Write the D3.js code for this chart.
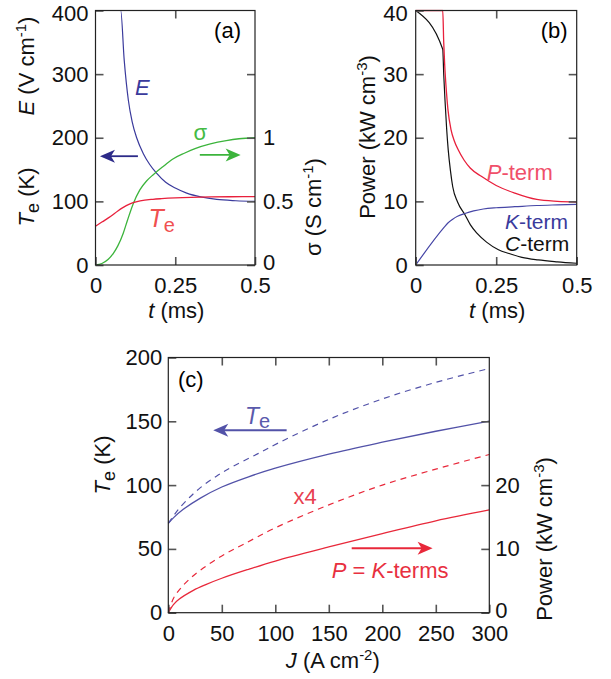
<!DOCTYPE html>
<html><head><meta charset="utf-8">
<script src="https://cdn.jsdelivr.net/npm/d3@7"></script>
<style>
body{margin:0;background:#fff;}
svg{display:block;font-family:"Liberation Sans",Arial,sans-serif;}
</style></head>
<body><svg id="c" width="611" height="679"></svg>
<script>
// ---------- Panel (a) data ----------
const tE   = [0, 0.079, 0.09, 0.103, 0.115, 0.129, 0.15, 0.17, 0.192, 0.22, 0.25, 0.286, 0.33, 0.38, 0.44, 0.5];
const Evals= [400, 400, 322, 259, 225, 200, 175, 158, 144, 130, 121, 113, 107, 103, 101, 100];
const tSig = [0, 0.02, 0.04, 0.056, 0.07, 0.087, 0.1, 0.118, 0.139, 0.16, 0.181, 0.21, 0.244, 0.28, 0.312, 0.36, 0.41, 0.45, 0.5];
const sigma= [0, 0.012, 0.045, 0.092, 0.15, 0.25, 0.35, 0.48, 0.59, 0.66, 0.71, 0.77, 0.835, 0.88, 0.915, 0.952, 0.978, 0.992, 1.0];
const tTe  = [0, 0.02, 0.048, 0.07, 0.087, 0.103, 0.118, 0.14, 0.18, 0.207, 0.25, 0.3, 0.36, 0.42, 0.5];
const TeA  = [61, 67.5, 76.5, 85, 90.5, 95, 98, 100.8, 103.3, 104.3, 105.5, 106.4, 107, 107.3, 107.4];
// ---------- Panel (b) data ----------
const tPt  = [0, 0.084, 0.087, 0.09, 0.095, 0.1, 0.11, 0.12, 0.132, 0.15, 0.17, 0.205, 0.25, 0.308, 0.376, 0.44, 0.5];
const Pterm= [40, 40, 35, 31.5, 27.5, 24.5, 21.2, 19.5, 18.1, 16.5, 15.2, 13.9, 12.5, 11.3, 10.3, 10.0, 9.9];
const tCt  = [0, 0.084, 0.087, 0.091, 0.096, 0.101, 0.108, 0.115, 0.13, 0.153, 0.17, 0.19, 0.22, 0.257, 0.29, 0.33, 0.38, 0.44, 0.5];
const Cterm= [40, 33.9, 30, 25.9, 21.5, 18.1, 14.8, 12.3, 9.9, 7.9, 6.3, 5.0, 3.6, 2.4, 1.8, 1.2, 0.8, 0.5, 0.27];
const tKt  = [0, 0.088, 0.1, 0.115, 0.13, 0.153, 0.18, 0.21, 0.25, 0.308, 0.376, 0.44, 0.5];
const Kterm= [0, 5.9, 6.6, 7.2, 7.65, 8.1, 8.5, 8.8, 9.0, 9.16, 9.35, 9.45, 9.53];
// ---------- Panel (c) data ----------
const J_TeS = [0, 5, 14, 30, 50, 75, 100, 150, 200, 250, 300];
const TeSolid=[70, 74.5, 81, 89.8, 98.5, 106.5, 113.3, 124.3, 133.6, 142.2, 150.1];
const J_TeD = [0, 5, 10, 20, 30, 45, 60, 80, 104, 150, 200, 250, 300];
const TeDash= [70, 76, 81.5, 90.5, 98, 107, 114.5, 123, 133.5, 151.5, 167.5, 180.5, 191.4];
const J_PS  = [0, 5, 10, 23.4, 35, 50, 75, 100, 150, 200, 250, 300];
const PSolid= [0, 1.3, 2.1, 3.5, 4.4, 5.4, 6.8, 8.1, 10.3, 12.4, 14.4, 16.1];
const J_PD  = [0, 5, 10.9, 20, 32.7, 50, 70, 100, 150, 200, 250, 300];
const PDash = [0, 2.3, 3.7, 5.3, 7.0, 8.9, 10.7, 13.3, 16.9, 20.0, 22.5, 24.8];
// tick labels
const ticksA_left = [0, 100, 200, 300, 400];
const ticksA_sig  = [0, 0.5, 1];
const ticksT      = [0, 0.25, 0.5];
const ticksB_left = [0, 10, 20, 30, 40];
const ticksC_left = [0, 50, 100, 150, 200];
const ticksC_pow  = [0, 10, 20];
const ticksC_J    = [0, 50, 100, 150, 200, 250, 300];

const svg = d3.select("#c");
const FS = 22;
const BLUE = "#3a3a9c", ARROWBLUE = "#2c2a88", GREEN = "#3cb43c", RED = "#e8203c";
const BLUE_C = "#5252a8", RED_C = "#e8283a";

function frame(g, x0, x1, y0, y1){
  g.append("rect").attr("x",x0).attr("y",y0).attr("width",x1-x0).attr("height",y1-y0)
   .attr("fill","none").attr("stroke","#222").attr("stroke-width",1.2);
}
function styleAxis(sel){
  sel.select(".domain").remove();
  sel.selectAll(".tick line").attr("stroke","#555").attr("stroke-width",1.6);
  sel.selectAll(".tick text").attr("font-size",FS).attr("fill","#111")
     .attr("font-family","Liberation Sans, Arial, sans-serif");
}
function nudge(sel, val, dy){
  sel.selectAll(".tick").filter(d=>d===val).select("text").attr("dy",dy);
}
function arrow(g, xa, xb, y, color){
  const dir = xb > xa ? 1 : -1;
  const L = 15, W = 6.5, N = 4;
  g.append("line").attr("x1",xa).attr("x2",xb - dir*L*0.6).attr("y1",y).attr("y2",y)
   .attr("stroke",color).attr("stroke-width",1.8);
  g.append("path").attr("d",`M${xb},${y} L${xb-dir*L},${y-W} L${xb-dir*(L-N)},${y} L${xb-dir*L},${y+W} Z`)
   .attr("fill",color);
}
function subLabel(g, main, sub, opts){
  const fs = opts.fs||FS;
  const t = g.append("text").attr("font-size",fs).attr("fill",opts.fill||"#111");
  t.append("tspan").attr("font-style","italic").text(main);
  t.append("tspan").attr("font-size",fs*0.8).attr("dy",fs*0.22).text(sub);
  return t;
}
const lineMono = (x, y) => d3.line().x(d=>x(d[0])).y(d=>y(d[1])).curve(d3.curveMonotoneX);
const lineSmooth = (x, y) => d3.line().x(d=>x(d[0])).y(d=>y(d[1])).curve(d3.curveCatmullRom.alpha(0.5));
const zip = (a,b) => a.map((v,i)=>[v,b[i]]);

// ================= Panel (a) =================
{
  const x0=95.5, x1=255, y0=10.5, y1=265;
  const g = svg.append("g");
  const x = d3.scaleLinear().domain([0,0.5]).range([x0,x1]);
  const y = d3.scaleLinear().domain([0,400]).range([y1,y0]);
  const ys = d3.scaleLinear().domain([0,2]).range([y1,y0]);
  g.append("clipPath").attr("id","clipA").append("rect").attr("x",x0).attr("y",y0-1).attr("width",x1-x0).attr("height",y1-y0+2);
  const cg = g.append("g").attr("clip-path","url(#clipA)");
  cg.append("path").datum(zip(tE,Evals)).attr("d",lineMono(x,y)).attr("fill","none").attr("stroke",BLUE).attr("stroke-width",1.2);
  cg.append("path").datum(zip(tSig,sigma)).attr("d",lineMono(x,ys)).attr("fill","none").attr("stroke",GREEN).attr("stroke-width",1.3);
  cg.append("path").datum(zip(tTe,TeA)).attr("d",lineMono(x,y)).attr("fill","none").attr("stroke",RED).attr("stroke-width",1.3);

  g.append("g").attr("transform",`translate(${x0},0)`)
   .call(d3.axisLeft(y).tickValues(ticksA_left).tickSize(-8).tickPadding(7)).call(styleAxis).call(s=>nudge(s,400,"0.45em"));
  g.append("g").attr("transform",`translate(${x1},0)`)
   .call(d3.axisRight(ys).tickValues([0,0.5,1,1.5]).tickSize(-8).tickPadding(8)
     .tickFormat(d=> ticksA_sig.includes(d) ? String(d) : "")).call(styleAxis).call(s=>nudge(s,0,"0.2em"));
  g.append("g").attr("transform",`translate(0,${y1})`)
   .call(d3.axisBottom(x).tickValues(ticksT).tickSize(-8).tickPadding(12).tickFormat(d=>String(d))).call(styleAxis);
  g.append("g").attr("transform",`translate(0,${y0})`)
   .call(d3.axisTop(x).tickValues([0.25]).tickSize(-8).tickFormat("")).call(styleAxis);
  frame(g,x0,x1,y0,y1);

  const t1 = g.append("text").attr("transform",`translate(34,66) rotate(-90)`).attr("text-anchor","middle").attr("font-size",FS).attr("fill","#111");
  t1.append("tspan").attr("font-style","italic").text("E");
  t1.append("tspan").text(" (V cm");
  t1.append("tspan").attr("font-size",15).attr("dy",-8).text("-1");
  t1.append("tspan").attr("dy",8).text(")");
  const t2 = g.append("text").attr("transform",`translate(34,197) rotate(-90)`).attr("text-anchor","middle").attr("font-size",FS).attr("fill","#111");
  t2.append("tspan").attr("font-style","italic").text("T");
  t2.append("tspan").attr("font-size",18).attr("dy",5).text("e");
  t2.append("tspan").attr("dy",-5).text(" (K)");
  const t3 = g.append("text").attr("transform",`translate(321,207) rotate(-90)`).attr("text-anchor","middle").attr("font-size",FS).attr("fill","#111");
  t3.append("tspan").text("σ (S cm");
  t3.append("tspan").attr("font-size",15).attr("dy",-8).text("-1");
  t3.append("tspan").attr("dy",8).text(")");
  g.append("text").attr("x",(x0+x1)/2+1).attr("y",317.5).attr("text-anchor","middle").attr("font-size",FS).attr("fill","#111")
   .html('<tspan font-style="italic">t</tspan> (ms)');

  g.append("text").attr("x",x1-14).attr("y",38).attr("text-anchor","end").attr("font-size",22).text("(a)");
  g.append("text").attr("x",x(0.124)).attr("y",y(267)).attr("font-size",FS).attr("font-style","italic").attr("fill",BLUE).text("E");
  g.append("text").attr("x",x(0.307)).attr("y",y(196)).attr("font-size",FS).attr("fill","#44bb44").text("σ");
  subLabel(g,"T","e",{fs:25,fill:"#f05050"}).attr("x",x(0.166)).attr("y",y(60));
  arrow(g, x(0.133), x(0.014), y(171), ARROWBLUE);
  arrow(g, x(0.327), x(0.455), y(173), GREEN);
}

// ================= Panel (b) =================
{
  const x0=415.7, x1=576.7, y0=10.5, y1=265;
  const g = svg.append("g");
  const x = d3.scaleLinear().domain([0,0.5]).range([x0,x1]);
  const y = d3.scaleLinear().domain([0,40]).range([y1,y0]);
  g.append("clipPath").attr("id","clipB").append("rect").attr("x",x0).attr("y",y0-1).attr("width",x1-x0).attr("height",y1-y0+2);
  const cg = g.append("g").attr("clip-path","url(#clipB)");
  cg.append("path").datum(zip(tCt,Cterm)).attr("d",lineMono(x,y)).attr("fill","none").attr("stroke","#111").attr("stroke-width",1.2);
  cg.append("path").datum(zip(tKt,Kterm)).attr("d",lineMono(x,y)).attr("fill","none").attr("stroke","#4646a6").attr("stroke-width",1.2);
  cg.append("path").datum(zip(tPt,Pterm)).attr("d",lineMono(x,y)).attr("fill","none").attr("stroke",RED).attr("stroke-width",1.3);

  g.append("g").attr("transform",`translate(${x0},0)`)
   .call(d3.axisLeft(y).tickValues(ticksB_left).tickSize(-8).tickPadding(8)).call(styleAxis).call(s=>nudge(s,40,"0.45em"));
  g.append("g").attr("transform",`translate(${x1},0)`)
   .call(d3.axisRight(y).tickValues([10,20,30]).tickSize(-8).tickFormat("")).call(styleAxis);
  g.append("g").attr("transform",`translate(0,${y1})`)
   .call(d3.axisBottom(x).tickValues(ticksT).tickSize(-8).tickPadding(12).tickFormat(d=>String(d))).call(styleAxis);
  g.append("g").attr("transform",`translate(0,${y0})`)
   .call(d3.axisTop(x).tickValues([0.25]).tickSize(-8).tickFormat("")).call(styleAxis);
  frame(g,x0,x1,y0,y1);

  const t1 = g.append("text").attr("transform",`translate(375,137) rotate(-90)`).attr("text-anchor","middle").attr("font-size",FS).attr("fill","#111");
  t1.append("tspan").text("Power (kW cm");
  t1.append("tspan").attr("font-size",15).attr("dy",-8).text("-3");
  t1.append("tspan").attr("dy",8).text(")");
  g.append("text").attr("x",(x0+x1)/2+1).attr("y",317.5).attr("text-anchor","middle").attr("font-size",FS).attr("fill","#111")
   .html('<tspan font-style="italic">t</tspan> (ms)');

  g.append("text").attr("x",x1-9).attr("y",38).attr("text-anchor","end").attr("font-size",22).text("(b)");
  g.append("text").attr("x",486.7).attr("y",180).attr("font-size",FS).attr("fill","#f0506a")
   .html('<tspan font-style="italic">P</tspan>-term');
  g.append("text").attr("x",505).attr("y",229).attr("font-size",21).attr("fill","#3a3a9c")
   .html('<tspan font-style="italic">K</tspan>-term');
  g.append("text").attr("x",505).attr("y",251).attr("font-size",21).attr("fill","#111")
   .html('<tspan font-style="italic">C</tspan>-term');
}

// ================= Panel (c) =================
{
  const x0=168.3, x1=489.3, y0=357.5, y1=612.7;
  const g = svg.append("g");
  const x = d3.scaleLinear().domain([0,300]).range([x0,x1]);
  const y = d3.scaleLinear().domain([0,200]).range([y1,y0]);
  const yp = d3.scaleLinear().domain([0,40]).range([y1,y0]);
  const cg = g.append("g");
  cg.append("path").datum(zip(J_TeD,TeDash)).attr("d",lineSmooth(x,y)).attr("fill","none").attr("stroke",BLUE_C).attr("stroke-width",1.2).attr("stroke-dasharray","6,5");
  cg.append("path").datum(zip(J_TeS,TeSolid)).attr("d",lineSmooth(x,y)).attr("fill","none").attr("stroke",BLUE_C).attr("stroke-width",1.3);
  cg.append("path").datum(zip(J_PD,PDash)).attr("d",lineSmooth(x,yp)).attr("fill","none").attr("stroke",RED_C).attr("stroke-width",1.2).attr("stroke-dasharray","6,5");
  cg.append("path").datum(zip(J_PS,PSolid)).attr("d",lineSmooth(x,yp)).attr("fill","none").attr("stroke",RED_C).attr("stroke-width",1.3);

  g.append("g").attr("transform",`translate(${x0},0)`)
   .call(d3.axisLeft(y).tickValues(ticksC_left).tickSize(-8).tickPadding(6)).call(styleAxis);
  g.append("g").attr("transform",`translate(${x1},0)`)
   .call(d3.axisRight(yp).tickValues([0,10,20,30]).tickSize(-8).tickPadding(6)
     .tickFormat(d=> ticksC_pow.includes(d) ? String(d) : "")).call(styleAxis).call(s=>nudge(s,0,"0.22em"));
  g.append("g").attr("transform",`translate(0,${y1})`)
   .call(d3.axisBottom(x).tickValues(ticksC_J).tickSize(-8).tickPadding(13)).call(styleAxis);
  g.append("g").attr("transform",`translate(0,${y0})`)
   .call(d3.axisTop(x).tickValues([50,100,150,200,250]).tickSize(-8).tickFormat("")).call(styleAxis);
  frame(g,x0,x1,y0,y1);

  const t1 = g.append("text").attr("transform",`translate(110,465) rotate(-90)`).attr("text-anchor","middle").attr("font-size",FS).attr("fill","#111");
  t1.append("tspan").attr("font-style","italic").text("T");
  t1.append("tspan").attr("font-size",18).attr("dy",5).text("e");
  t1.append("tspan").attr("dy",-5).text(" (K)");
  const t2 = g.append("text").attr("transform",`translate(552,539) rotate(-90)`).attr("text-anchor","middle").attr("font-size",FS).attr("fill","#111");
  t2.append("tspan").text("Power (kW cm");
  t2.append("tspan").attr("font-size",15).attr("dy",-8).text("-3");
  t2.append("tspan").attr("dy",8).text(")");
  const t3 = g.append("text").attr("x",(x0+x1)/2+4).attr("y",668).attr("text-anchor","middle").attr("font-size",FS).attr("fill","#111");
  t3.append("tspan").attr("font-style","italic").text("J");
  t3.append("tspan").text(" (A cm");
  t3.append("tspan").attr("font-size",15).attr("dy",-8).text("-2");
  t3.append("tspan").attr("dy",8).text(")");

  g.append("text").attr("x",178).attr("y",387).attr("font-size",22).text("(c)");
  const te = g.append("text").attr("x",x(71.7)).attr("y",y(148)).attr("font-size",23).attr("fill","#5a5aac");
  te.append("tspan").attr("font-style","italic").text("T");
  te.append("tspan").attr("font-size",20).attr("dy",4).text("e");
  g.append("text").attr("x",x(117)).attr("y",yp(17.0)).attr("font-size",22).attr("fill","#e84050").text("x4");
  g.append("text").attr("x",x(152.7)).attr("y",yp(5.4)).attr("font-size",22).attr("fill","#e83040")
   .html('<tspan font-style="italic">P</tspan> = <tspan font-style="italic">K</tspan>-terms');
  arrow(g, x(110.6), x(42), y(143), BLUE_C);
  arrow(g, x(171.4), x(247), yp(10.1), RED_C);
}
</script></body></html>
